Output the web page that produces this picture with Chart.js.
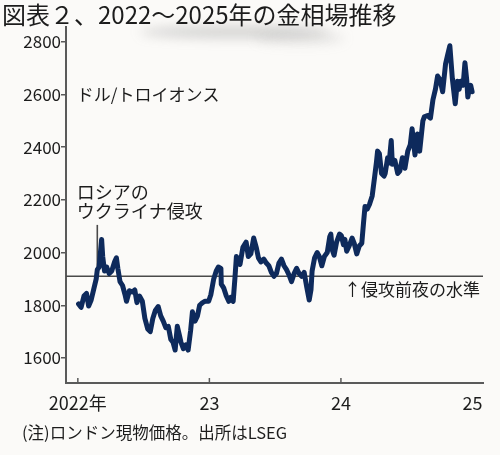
<!DOCTYPE html>
<html><head><meta charset="utf-8">
<script src="https://cdn.jsdelivr.net/npm/chart.js@4.4.1/dist/chart.umd.min.js"></script>
<style>
html,body{margin:0;padding:0;background:#fbfaf8;}
#wrap{position:relative;width:500px;height:455px;}
canvas{display:block;}
</style></head>
<body><div id="wrap"><canvas id="c" width="500" height="455"></canvas></div>
<script>
// ---- data (London spot gold, USD/troy oz) ----
const titleText = '図表２、2022～2025年の金相場推移';
const unitText = 'ドル/トロイオンス';
const eventText = ['ロシアの', 'ウクライナ侵攻'];
const levelText = '↑侵攻前夜の水準';
const noteText = '(注)ロンドン現物価格。出所はLSEG';

const xTickValues = [2022, 2023, 2024, 2025];
const xTickLabels = ['2022年', '23', '24', '25'];
const yTickValues = [1600, 1800, 2000, 2200, 2400, 2600, 2800];

const invasionDate = '2022-02-24';
const preInvasionLevel = 1910;
const invasionMarkTop = 2105;

const days2022 = ['01-03','01-10','01-18','01-25','01-31','02-07','02-14','02-21','02-24','03-01','03-08','03-11','03-16','03-22','03-29','04-05','04-13','04-18','04-22','04-28','05-05','05-12','05-16','05-24','06-01','06-08','06-14','06-21','06-29','07-06','07-14','07-21','07-28','08-04','08-12','08-19','08-26','09-02','09-09','09-16','09-22','09-28','10-04','10-10','10-14','10-21','10-28','11-03','11-10','11-15','11-22','11-29','12-05','12-13','12-20','12-30'];
const gold2022 = [1805,1792,1835,1845,1797,1820,1860,1900,1935,1945,2050,1985,1930,1945,1920,1930,1965,1980,1940,1890,1875,1840,1815,1855,1850,1858,1810,1835,1815,1750,1710,1700,1750,1780,1795,1760,1740,1715,1720,1670,1660,1630,1720,1685,1660,1635,1650,1630,1705,1775,1740,1760,1800,1810,1815,1815];

const days2023 = ['01-05','01-13','01-20','01-26','02-02','02-03','02-10','02-17','02-24','03-01','03-08','03-13','03-17','03-20','03-27','04-04','04-13','04-19','04-26','05-04','05-11','05-17','05-24','06-01','06-08','06-15','06-22','06-29','07-06','07-13','07-20','07-27','08-03','08-10','08-17','08-24','08-31','09-07','09-14','09-21','09-28','10-05','10-10','10-13','10-20','10-27','11-02','11-09','11-16','11-24','12-01','12-04','12-08','12-13','12-20','12-28'];
const gold2023 = [1840,1900,1930,1945,1940,1880,1865,1835,1815,1830,1815,1905,1985,1975,1955,2020,2040,1985,1995,2055,2020,1980,1965,1975,1960,1950,1925,1910,1920,1960,1975,1950,1935,1915,1890,1920,1940,1920,1910,1925,1870,1820,1860,1930,1980,2000,1985,1950,1985,2000,2060,2070,2010,1990,2040,2070];

const days2024 = ['01-02','01-08','01-12','01-17','01-24','02-01','02-07','02-14','02-21','02-28','03-04','03-08','03-14','03-21','03-28','04-04','04-09','04-12','04-17','04-23','04-30','05-03','05-10','05-14','05-20','05-23','05-30','06-07','06-13','06-20','06-27','07-05','07-12','07-17','07-25','08-01','08-07','08-16','08-20','08-29','09-06','09-13','09-20','09-26','10-03','10-10','10-18','10-23','10-30','11-06','11-14','11-20','11-25','11-29','12-06','12-11','12-16','12-19','12-23','12-27','12-31'];
const gold2024 = [2065,2030,2050,2005,2025,2055,2035,1995,2025,2035,2115,2175,2165,2185,2215,2290,2345,2385,2375,2300,2290,2300,2360,2340,2425,2335,2350,2300,2310,2360,2320,2385,2410,2470,2370,2450,2385,2500,2515,2520,2510,2580,2620,2670,2655,2610,2715,2745,2785,2660,2565,2650,2620,2650,2635,2720,2655,2590,2620,2635,2610];

// ---- helpers ----
function toYear(dateStr){
  const [y,m,d] = dateStr.split('-').map(Number);
  const start = Date.UTC(y,0,1), end = Date.UTC(y+1,0,1);
  return y + (Date.UTC(y,m-1,d) - start)/(end - start);
}
const points = [];
[[2022,days2022,gold2022],[2023,days2023,gold2023],[2024,days2024,gold2024]].forEach(([yr,ds,vs])=>{
  ds.forEach((d,i)=>points.push({x: toYear(yr+'-'+d), y: vs[i]}));
});

const FONT = '"Noto Sans CJK JP","Noto Sans",sans-serif';
const INK = '#1c1c1c';
const AXIS = '#5a5a5a';

const decor = {
  id:'decor',
  beforeDraw(chart){
    const ctx = chart.ctx;
    ctx.save();
    ctx.fillStyle = '#fbfaf8';
    ctx.fillRect(0,0,chart.width,chart.height);
    // soft grey smudge under the title
    ctx.filter = 'blur(6px)';
    ctx.fillStyle = 'rgba(120,120,120,0.30)';
    ctx.beginPath(); ctx.ellipse(235,32,95,6,0,0,Math.PI*2); ctx.fill();
    ctx.fillStyle = 'rgba(140,140,140,0.18)';
    ctx.beginPath(); ctx.ellipse(300,38,45,6,0,0,Math.PI*2); ctx.fill();
    ctx.filter = 'none';
    ctx.restore();
  },
  beforeDatasetsDraw(chart){
    const {ctx, chartArea:a, scales:{x,y}} = chart;
    ctx.save();
    const yl = y.getPixelForValue(preInvasionLevel);
    ctx.strokeStyle = '#4a4a4a'; ctx.lineWidth = 1.6;
    ctx.beginPath(); ctx.moveTo(a.left, yl); ctx.lineTo(a.right, yl); ctx.stroke();
    const xi = x.getPixelForValue(toYear(invasionDate));
    ctx.beginPath(); ctx.moveTo(xi, y.getPixelForValue(invasionMarkTop)); ctx.lineTo(xi, yl); ctx.stroke();
    ctx.restore();
  },
  afterDraw(chart){
    const {ctx, chartArea:a, scales:{x,y}} = chart;
    ctx.save();
    ctx.strokeStyle = AXIS; ctx.lineWidth = 1.5;
    xTickValues.slice(0,3).forEach(v=>{
      const px = x.getPixelForValue(v);
      ctx.beginPath(); ctx.moveTo(px, a.bottom); ctx.lineTo(px, a.bottom-5); ctx.stroke();
    });
    ctx.fillStyle = INK;
    ctx.textBaseline = 'middle';
    ctx.textAlign = 'left';
    ctx.font = '24px ' + FONT;
    ctx.fillText(titleText, 2, 15);
    const xl = x.getPixelForValue(2022);
    ctx.font = '17px ' + FONT;
    ctx.fillText(unitText, xl-1, y.getPixelForValue(2600));
    ctx.font = '18px ' + FONT;
    ctx.fillText(eventText[0], xl-1, y.getPixelForValue(2230));
    ctx.fillText(eventText[1], xl-1, y.getPixelForValue(2157));
    ctx.textAlign = 'right';
    ctx.font = '17px ' + FONT;
    ctx.fillText(levelText, a.right-3, y.getPixelForValue(preInvasionLevel)+13);
    ctx.textAlign = 'left';
    ctx.font = '16.5px ' + FONT;
    ctx.fillText(noteText, 22, 433);
    ctx.restore();
  }
};

new Chart(document.getElementById('c'), {
  type:'line',
  data:{datasets:[{
    data: points,
    borderColor:'#0e2a5c',
    borderWidth:5,
    pointRadius:0,
    tension:0,
    borderJoinStyle:'round',
    borderCapStyle:'round',
    fill:false
  }]},
  options:{
    responsive:false,
    animation:false,
    events:[],
    layout:{padding:{left:0,right:17,top:27,bottom:0}},
    plugins:{legend:{display:false},tooltip:{enabled:false},title:{display:false}},
    scales:{
      x:{
        type:'linear', min:2021.91, max:2025.08,
        afterBuildTicks(s){ s.ticks = xTickValues.map(v=>({value:v})); },
        afterFit(s){ s.height = 72; },
        grid:{drawOnChartArea:false, drawTicks:false},
        border:{display:true, color:AXIS, width:2},
        ticks:{
          padding:9, color:INK, maxRotation:0, autoSkip:false,
          font:{family:FONT, size:18},
          callback(v){ const i = xTickValues.indexOf(v); return i>=0 ? xTickLabels[i] : ''; }
        }
      },
      y:{
        min:1505, max:2856,
        afterBuildTicks(s){ s.ticks = yTickValues.map(v=>({value:v})); },
        afterFit(s){ s.width = 66; },
        grid:{drawOnChartArea:false, tickLength:5, color:AXIS, lineWidth:1.5},
        border:{display:true, color:AXIS, width:2},
        ticks:{padding:0, color:INK, font:{family:FONT, size:17}, callback(v){ return String(v); }}
      }
    }
  },
  plugins:[decor]
});
</script>
</body></html>
